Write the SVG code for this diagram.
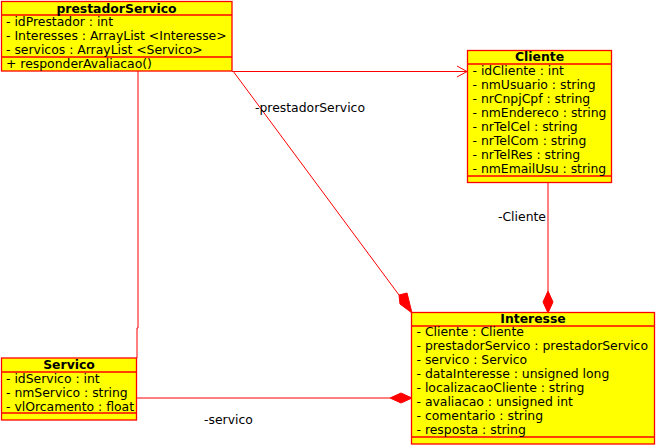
<svg xmlns="http://www.w3.org/2000/svg" width="656" height="445" viewBox="0 0 656 445">
<style>
.box{fill:#ffff00;stroke:#ff0000;stroke-width:1.3}
.sep{stroke:#ff0000;stroke-width:1.3}
text{font-family:"DejaVu Sans","Liberation Sans",sans-serif;font-size:12.4px;fill:#000}
.t{font-weight:bold;text-anchor:middle}
.c{fill:none;stroke:#ff0000;stroke-width:1}
.d{fill:#ff0000;stroke:#ff0000;stroke-width:1}
</style>
<rect x="0" y="0" width="656" height="445" fill="#ffffff"/>
<g id="connectors">
<polyline class="c" points="138,71 138,328 137,328 137,358"/>
<line class="c" x1="232" y1="71.5" x2="467" y2="71.5"/>
<polyline class="c" points="457,66 467,71.5 457,77"/>
<line class="c" x1="233" y1="71" x2="399" y2="295"/>
<polygon class="d" points="412,313 407,293 399,295 400,304"/>
<line class="c" x1="548" y1="182" x2="548" y2="291"/>
<polygon class="d" points="548,291 553,302 548,313 543,302"/>
<line class="c" x1="137" y1="398" x2="390" y2="398"/>
<polygon class="d" points="390,398 401,393 412,398 401,403"/>
<text x="255" y="112">-prestadorServico</text>
<text x="498" y="221">-Cliente</text>
<text x="204" y="424">-servico</text>
</g>
<g id="prestadorServico">
<rect class="box" x="1.5" y="1.5" width="230.5" height="69.5"/>
<line class="sep" x1="1.5" y1="15" x2="232" y2="15"/>
<line class="sep" x1="1.5" y1="57" x2="232" y2="57"/>
<text class="t" x="116.5" y="12.5">prestadorServico</text>
<text x="6" y="26">- idPrestador : int</text>
<text x="6" y="40">- Interesses : ArrayList &lt;Interesse&gt;</text>
<text x="6" y="54">- servicos : ArrayList &lt;Servico&gt;</text>
<text x="6" y="68">+ responderAvaliacao()</text>
</g>
<g id="Cliente">
<rect class="box" x="467.5" y="50.5" width="144" height="132"/>
<line class="sep" x1="467.5" y1="64" x2="611.5" y2="64"/>
<line class="sep" x1="467.5" y1="176" x2="611.5" y2="176"/>
<text class="t" x="539.5" y="61">Cliente</text>
<text x="472.5" y="75">- idCliente : int</text>
<text x="472.5" y="89">- nmUsuario : string</text>
<text x="472.5" y="103">- nrCnpjCpf : string</text>
<text x="472.5" y="117">- nmEndereco : string</text>
<text x="472.5" y="131">- nrTelCel : string</text>
<text x="472.5" y="145">- nrTelCom : string</text>
<text x="472.5" y="159">- nrTelRes : string</text>
<text x="472.5" y="173">- nmEmailUsu : string</text>
</g>
<g id="Interesse">
<rect class="box" x="411.5" y="312.5" width="243" height="131.5"/>
<line class="sep" x1="411.5" y1="326" x2="654.5" y2="326"/>
<line class="sep" x1="411.5" y1="437" x2="654.5" y2="437"/>
<text class="t" x="533" y="323">Interesse</text>
<text x="416.5" y="336">- Cliente : Cliente</text>
<text x="416.5" y="350">- prestadorServico : prestadorServico</text>
<text x="416.5" y="364">- servico : Servico</text>
<text x="416.5" y="378">- dataInteresse : unsigned long</text>
<text x="416.5" y="392">- localizacaoCliente : string</text>
<text x="416.5" y="406">- avaliacao : unsigned int</text>
<text x="416.5" y="420">- comentario : string</text>
<text x="416.5" y="434">- resposta : string</text>
</g>
<g id="Servico">
<rect class="box" x="1.5" y="358" width="135" height="62"/>
<line class="sep" x1="1.5" y1="372" x2="136.5" y2="372"/>
<line class="sep" x1="1.5" y1="413" x2="136.5" y2="413"/>
<text class="t" x="69" y="369">Servico</text>
<text x="6" y="383">- idServico : int</text>
<text x="6" y="397">- nmServico : string</text>
<text x="6" y="411">- vlOrcamento : float</text>
</g>
</svg>
